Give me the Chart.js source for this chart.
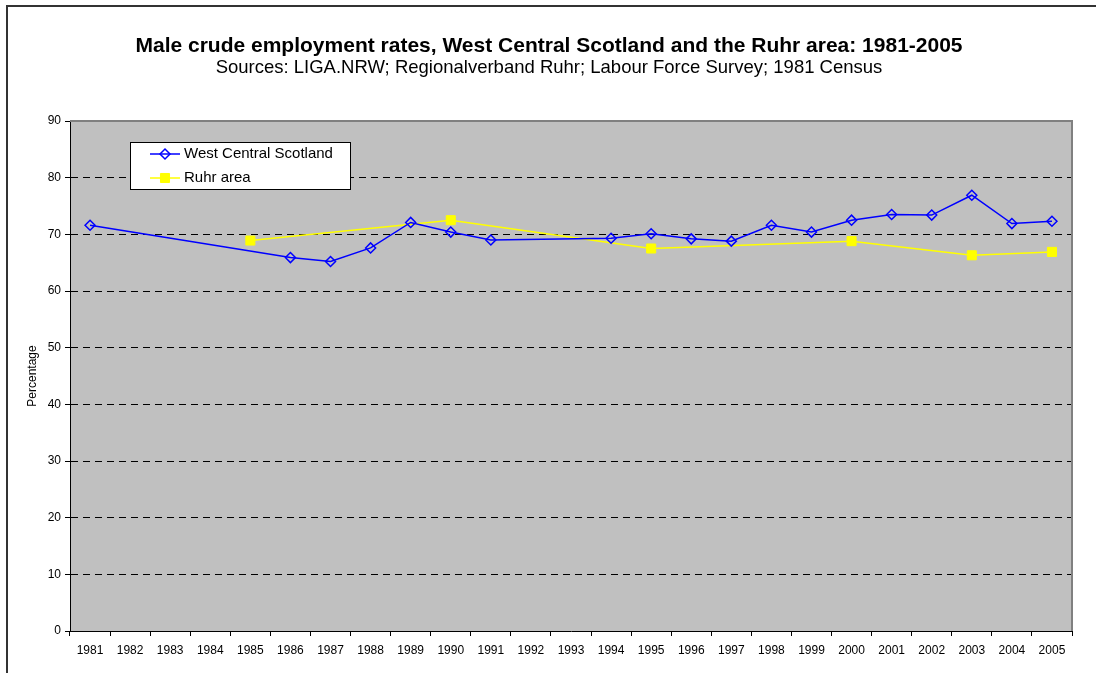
<!DOCTYPE html>
<html>
<head>
<meta charset="utf-8">
<script src="https://cdn.jsdelivr.net/npm/chart.js@4.4.0/dist/chart.umd.min.js"></script>
<style>
  html, body { margin: 0; padding: 0; background: #fff; }
  #wrap { position: relative; width: 1096px; height: 673px; }
  #frame { position: absolute; left: 6px; top: 5px; right: -10px; bottom: -10px; border: 2px solid #333; }
  canvas { position: absolute; left: 0; top: 0; }
</style>
</head>
<body>
<div id="wrap">
  <div id="frame"></div>
  <canvas id="myChart" width="1096" height="673"></canvas>
</div>
<script>
// categorías (años)
const years = ['1981','1982','1983','1984','1985','1986','1987','1988','1989','1990','1991','1992','1993',
               '1994','1995','1996','1997','1998','1999','2000','2001','2002','2003','2004','2005'];

// West Central Scotland (null = sin dato)
const wcsValues = [71.6, null, null, null, null, 65.9, 65.2, 67.6, 72.1, 70.4, 69.0, null, null,
                   69.3, 70.1, 69.2, 68.8, 71.6, 70.4, 72.5, 73.5, 73.4, 76.9, 71.9, 72.3];

// Ruhr area
const ruhrValues = [null, null, null, null, 68.9, null, null, null, null, 72.5, null, null, null,
                    null, 67.5, null, null, null, null, 68.8, null, null, 66.3, null, 66.9];

const yTicks = [0, 10, 20, 30, 40, 50, 60, 70, 80, 90];

const FONT = '"Liberation Sans", Arial, sans-serif';

/* Fondo gris del área de la gráfica y borde */
const plotBg = {
  id: 'plotBg',
  beforeDraw(chart) {
    const { ctx, chartArea: a } = chart;
    ctx.save();
    ctx.fillStyle = '#C0C0C0';
    ctx.fillRect(a.left, a.top, a.right - a.left, a.bottom - a.top);
    ctx.restore();
  },
  afterDraw(chart) {
    const { ctx, chartArea: a } = chart;
    ctx.save();
    ctx.strokeStyle = '#808080';
    ctx.lineWidth = 2;
    ctx.beginPath();
    ctx.moveTo(a.left, a.top);
    ctx.lineTo(a.right, a.top);
    ctx.lineTo(a.right, a.bottom);
    ctx.stroke();
    ctx.restore();
  }
};

/* Títulos */
const titles = {
  id: 'titles',
  afterDraw(chart) {
    const ctx = chart.ctx;
    ctx.save();
    ctx.fillStyle = '#000';
    ctx.textAlign = 'center';
    ctx.textBaseline = 'middle';
    ctx.font = 'bold 21px ' + FONT;
    ctx.fillText('Male crude employment rates, West Central Scotland and the Ruhr area: 1981-2005', 549, 46);
    ctx.font = '18.5px ' + FONT;
    ctx.fillText('Sources: LIGA.NRW; Regionalverband Ruhr; Labour Force Survey; 1981 Census', 549, 68);
    ctx.restore();
  }
};

/* Leyenda dentro del área */
const boxLegend = {
  id: 'boxLegend',
  afterDraw(chart) {
    const ctx = chart.ctx;
    const x = 130, y = 142, w = 220, h = 47;
    ctx.save();
    ctx.fillStyle = '#fff';
    ctx.fillRect(x, y, w, h);
    ctx.strokeStyle = '#000';
    ctx.lineWidth = 1;
    ctx.strokeRect(x + 0.5, y + 0.5, w, h);
    ctx.font = '15px ' + FONT;
    ctx.textBaseline = 'middle';
    chart.data.datasets.forEach((ds, i) => {
      const cy = y + 12 + i * 24;
      ctx.strokeStyle = ds.borderColor;
      ctx.lineWidth = 1.5;
      ctx.beginPath();
      ctx.moveTo(150, cy);
      ctx.lineTo(180, cy);
      ctx.stroke();
      ctx.fillStyle = ds.pointBackgroundColor;
      ctx.strokeStyle = ds.pointBorderColor;
      ctx.lineWidth = ds.pointBorderWidth;
      Chart.helpers.drawPoint(ctx, {
        pointStyle: ds.pointStyle, radius: ds.pointRadius, borderWidth: ds.pointBorderWidth
      }, 165, cy);
      ctx.fillStyle = '#000';
      ctx.fillText(ds.label, 184, cy);
    });
    ctx.restore();
  }
};

const ctx = document.getElementById('myChart').getContext('2d');
const myChart = new Chart(ctx, {
  type: 'line',
  data: {
    labels: years,
    datasets: [
      {
        label: 'West Central Scotland',
        data: wcsValues,
        borderColor: '#0000FF',
        borderWidth: 1.5,
        pointStyle: 'rectRot',
        pointRadius: 5,
        pointBorderColor: '#0000FF',
        pointBackgroundColor: 'rgba(0,0,0,0)',
        pointBorderWidth: 1.5,
        spanGaps: true,
        tension: 0
      },
      {
        label: 'Ruhr area',
        data: ruhrValues,
        borderColor: '#FFFF00',
        borderWidth: 1.5,
        pointStyle: 'rect',
        pointRadius: 6.4,
        pointBorderColor: '#FFFF00',
        pointBackgroundColor: '#FFFF00',
        pointBorderWidth: 1,
        spanGaps: true,
        tension: 0
      }
    ]
  },
  options: {
    responsive: false,
    animation: false,
    events: [],
    layout: { padding: { top: 121, right: 24, left: 0, bottom: 0 } },
    plugins: {
      legend: { display: false },
      title: { display: false },
      tooltip: { enabled: false }
    },
    scales: {
      x: {
        type: 'category',
        offset: true,
        grid: {
          offset: true,
          drawOnChartArea: false,
          drawTicks: true,
          tickLength: 5,
          tickColor: '#000'
        },
        border: { display: true, color: '#000', width: 1 },
        ticks: {
          color: '#000',
          font: { family: FONT, size: 12 },
          padding: 7,
          maxRotation: 0,
          autoSkip: false
        },
        afterFit(scale) { scale.height = 42; }
      },
      y: {
        min: 0,
        max: 90,
        afterBuildTicks(scale) { scale.ticks = yTicks.map(v => ({ value: v })); },
        grid: {
          color: (c) => (c.tick && (c.tick.value === 0 || c.tick.value === 90)) ? 'rgba(0,0,0,0)' : '#000',
          lineWidth: 1,
          tickLength: 5,
          tickColor: '#000',
          tickBorderDash: []
        },
        border: { display: true, color: '#000', width: 1, dash: [7, 5] },
        ticks: {
          color: '#000',
          font: { family: FONT, size: 12 },
          padding: 4
        },
        title: {
          display: true,
          text: 'Percentage',
          color: '#000',
          font: { family: FONT, size: 12 },
          padding: { top: 25, bottom: 0 }
        },
        afterFit(scale) { scale.width = 70; }
      }
    }
  },
  plugins: [plotBg, titles, boxLegend]
});
</script>
</body>
</html>
